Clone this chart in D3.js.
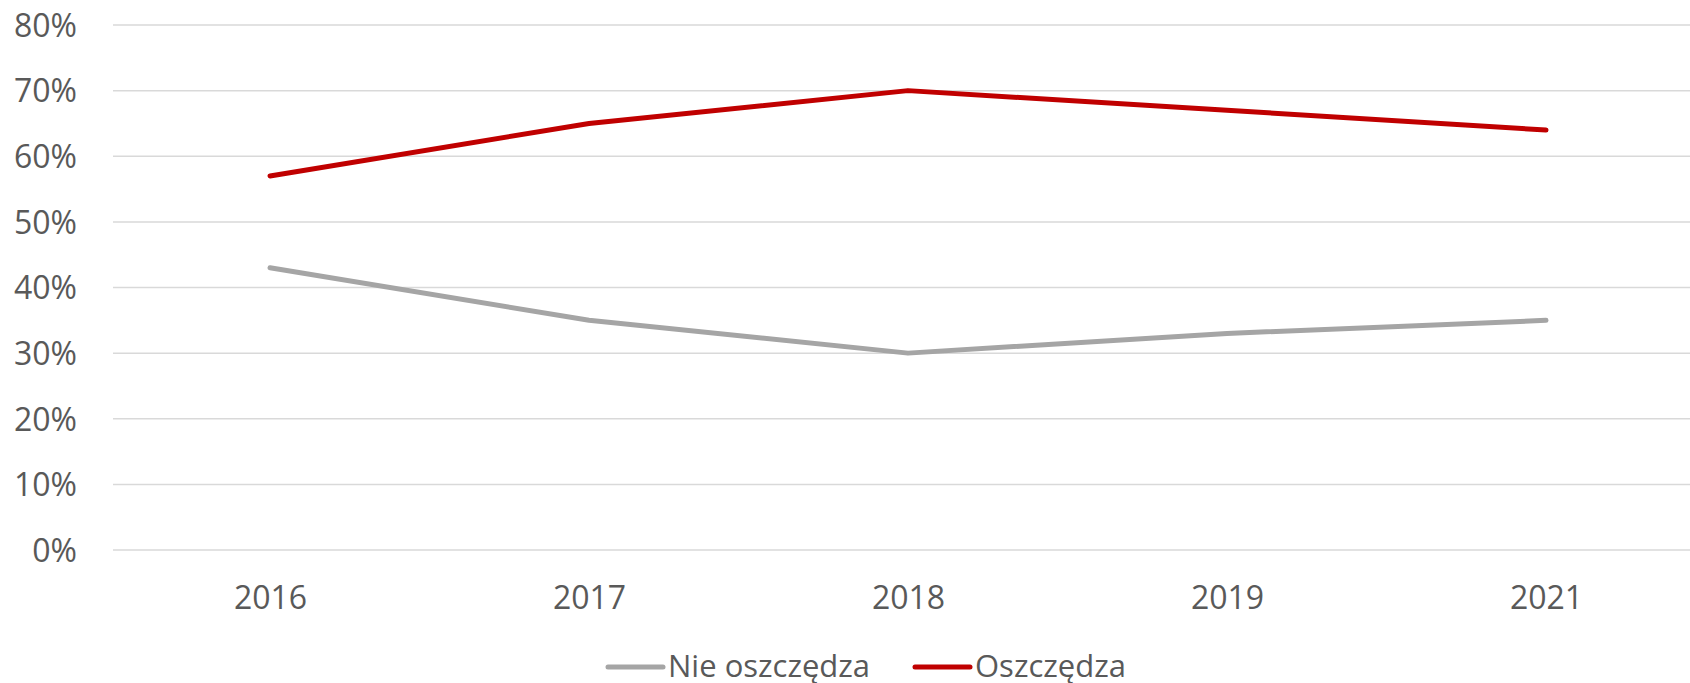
<!DOCTYPE html>
<html>
<head>
<meta charset="utf-8">
<script src="https://cdn.jsdelivr.net/npm/d3@7"></script>
<style>
  body { margin: 0; background: #fff; }
  svg text { font-family: "Open Sans", sans-serif; fill: #595959; }
</style>
</head>
<body>
<svg id="chart" width="1690" height="683"></svg>
<script>
// data
const years = ["2016", "2017", "2018", "2019", "2021"];
const nieOszczedza = [43, 35, 30, 33, 35];
const oszczedza = [57, 65, 70, 67, 64];
const yTicks = [0, 10, 20, 30, 40, 50, 60, 70, 80];

const series = [
  { name: "Nie oszczędza", values: nieOszczedza, color: "#A5A5A5" },
  { name: "Oszczędza", values: oszczedza, color: "#C00000" },
];

const svg = d3.select("#chart");

//plot area runs off the right edge like in the original
const x = d3.scalePoint().domain(years).range([110.5, 1705.5]).padding(0.5);
const y = d3.scaleLinear().domain([0, 80]).range([550, 25]);

//gridlines
svg.append("g")
  .selectAll("line")
  .data(yTicks)
  .join("line")
  .attr("x1", 113)
  .attr("x2", 1690)
  .attr("y1", (d) => y(d))
  .attr("y2", (d) => y(d))
  .attr("stroke", "#D9D9D9")
  .attr("stroke-width", 1.5);

//y axis labels
const yAxis = svg.append("g")
  .attr("transform", "translate(77,1)")
  .call(d3.axisLeft(y).tickValues(yTicks).tickFormat((d) => d + "%").tickSize(0).tickPadding(0));
yAxis.select(".domain").remove();
yAxis.selectAll("text")
  .attr("font-size", 32)
  .attr("fill", "#595959")
  .style("font-family", "'Open Sans', sans-serif");

//x axis labels
const xAxis = svg.append("g")
  .attr("transform", "translate(0,586)")
  .call(d3.axisBottom(x).tickSize(0).tickPadding(0));
xAxis.select(".domain").remove();
xAxis.selectAll("text")
  .attr("font-size", 32)
  .attr("fill", "#595959")
  .style("font-family", "'Open Sans', sans-serif");

//lines
const line = d3.line()
  .x((d, i) => x(years[i]))
  .y((d) => y(d));

svg.append("g")
  .selectAll("path")
  .data(series)
  .join("path")
  .attr("d", (d) => line(d.values))
  .attr("fill", "none")
  .attr("stroke", (d) => d.color)
  .attr("stroke-width", 5)
  .attr("stroke-linecap", "round")
  .attr("stroke-linejoin", "round");

//legend
const legendPos = [608, 915];
const legend = svg.append("g")
  .selectAll("g")
  .data(series)
  .join("g")
  .attr("transform", (d, i) => `translate(${legendPos[i]},667)`);

legend.append("line")
  .attr("x1", 0)
  .attr("x2", 55)
  .attr("stroke", (d) => d.color)
  .attr("stroke-width", 5)
  .attr("stroke-linecap", "round");

legend.append("text")
  .attr("x", 60)
  .attr("y", 10)
  .attr("font-size", 31)
  .text((d) => d.name);
</script>
</body>
</html>
